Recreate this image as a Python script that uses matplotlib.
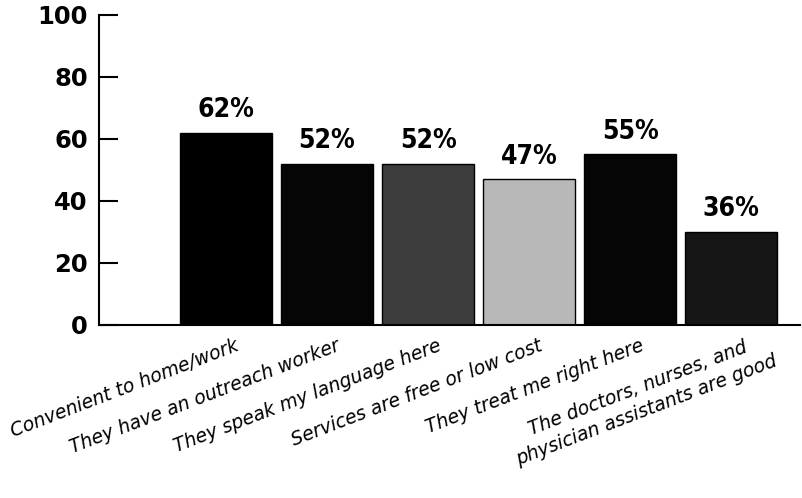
import matplotlib.pyplot as plt
import matplotlib.transforms as mtransforms
import numpy as np

# Reasons given for choosing the clinic
categories = [
    "Convenient to home/work",
    "They have an outreach worker",
    "They speak my language here",
    "Services are free or low cost",
    "They treat me right here",
    "The doctors, nurses, and\nphysician assistants are good",
]
# bar heights as drawn in the original, and the printed labels
heights = [62, 52, 52, 47, 55, 30]
value_labels = ["62%", "52%", "52%", "47%", "55%", "36%"]
bar_colors = ["#000000", "#050505", "#3c3c3c", "#b8b8b8", "#050505", "#161616"]
y_ticks = [0, 20, 40, 60, 80, 100]

fig = plt.figure(figsize=(8.02, 4.98), dpi=100)
ax = fig.add_axes([0.1234, 0.3474, 0.8741, 0.6225])

x = np.arange(len(categories))
bars = ax.bar(x, heights, width=0.91, color=bar_colors, edgecolor="black", linewidth=1)

for rect, lab in zip(bars, value_labels):
    ax.annotate(lab, (rect.get_x() + rect.get_width() / 2, rect.get_height()),
                xytext=(0, 7), textcoords="offset points", ha="center", va="bottom",
                fontsize=19, fontweight="bold", fontstretch="condensed",
                family="DejaVu Sans")

ax.set_xlim(-1.257, 5.68)
ax.set_ylim(0, 100)
ax.set_yticks(y_ticks)
ax.tick_params(axis="y", direction="in", length=14, width=1.5, pad=8, labelsize=17.5)
for t in ax.get_yticklabels():
    t.set_fontweight("bold")

ax.set_xticks(x + 0.09)
ax.set_xticklabels(categories, rotation=21, ha="right", rotation_mode="anchor",
                   fontsize=13.5, style="italic", multialignment="center",
                   linespacing=1.3)
ax.tick_params(axis="x", length=0, pad=8)
# the two-line label sits further right in the original
last = ax.get_xticklabels()[-1]
last.set_transform(last.get_transform() + mtransforms.ScaledTranslation(0.24, 0.06, fig.dpi_scale_trans))

ax.spines["top"].set_visible(False)
ax.spines["right"].set_visible(False)
ax.spines["left"].set_linewidth(1.5)
ax.spines["bottom"].set_linewidth(1.5)

plt.savefig("out.png", dpi=100)
